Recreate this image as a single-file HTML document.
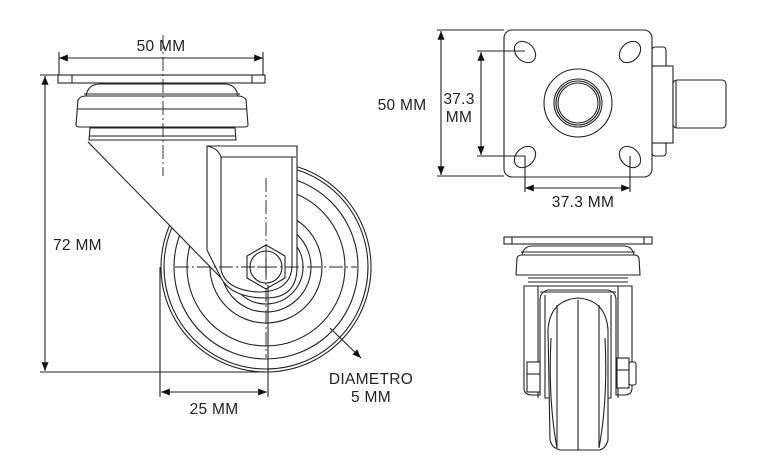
<!DOCTYPE html>
<html><head><meta charset="utf-8"><style>
html,body{margin:0;padding:0;background:#fff;}
svg{display:block}
text{font-family:"Liberation Sans",sans-serif;font-size:15.5px;fill:#222;letter-spacing:0.3px}
</style></head><body>
<svg width="766" height="476" viewBox="0 0 766 476" xmlns="http://www.w3.org/2000/svg">
<defs>
<marker id="a" viewBox="0 0 10 10" refX="10" refY="5" markerWidth="8" markerHeight="8" orient="auto-start-reverse"><path d="M0,1 L10,5 L0,9 Z" fill="#111"/></marker>
</defs>
<g fill="none" stroke="#222" stroke-width="1.1">
<line x1="59" y1="58" x2="263" y2="58" marker-start="url(#a)" marker-end="url(#a)"/>
<line x1="59" y1="52" x2="59" y2="75"/>
<line x1="263" y1="52" x2="263" y2="75"/>
<rect x="58" y="75" width="207" height="8" fill="#fff"/>
<line x1="72" y1="75" x2="72" y2="83"/><line x1="252" y1="75" x2="252" y2="83"/>
<path d="M86,96 Q88,84 100,84 L224,84 Q236,84 238,96" fill="#fff"/>
<line x1="84" y1="94" x2="240" y2="94"/>
<path d="M78,100 Q80,96 86,96 L238,96 Q244,96 246,100 L248,125 Q248,127 244,127 L80,127 Q76,127 76,125 Z" fill="#fff"/>
<line x1="77" y1="109" x2="247" y2="109"/>
<path d="M90,128 L235,128 L236,140 L89,140 Z" fill="#fff"/>
<line x1="89" y1="136" x2="236" y2="136"/>
<circle cx="266" cy="267" r="105" fill="#fff"/>
<circle cx="266" cy="267" r="102"/>
<circle cx="266" cy="267" r="92"/>
<circle cx="266" cy="267" r="79"/>
<circle cx="266" cy="267" r="56"/>
<circle cx="266" cy="267" r="45"/>
<circle cx="266" cy="267" r="37"/>
<path d="M88,141 L226,283 L226,148 Z" fill="#fff" stroke="none"/>
<line x1="88" y1="142" x2="225" y2="282"/>
<path d="M207,146 L297,146 L297,267 Q297,298 266,298 Q232,298 221,278 L207,250 Z" fill="#fff"/>
<path d="M221,157 L221,270 Q226,290 258,292 Q290,292 292,267 L292,157"/>
<line x1="221" y1="157" x2="296" y2="157"/>
<path d="M207,146 Q218,148 221,157"/>
<line x1="297" y1="146" x2="297" y2="152"/>
<polygon points="266,245 285,256 285,278 266,289 247,278 247,256" fill="#fff"/>
<circle cx="266" cy="267" r="16"/>
<g stroke-dasharray="14,3,2,3" stroke-width="0.9">
<line x1="163" y1="35" x2="163" y2="176"/>
<line x1="266" y1="178" x2="266" y2="358"/>
<line x1="175" y1="267" x2="357" y2="267"/>
</g>
<line x1="257" y1="267" x2="275" y2="267"/><line x1="266" y1="258" x2="266" y2="276"/>
<line x1="45" y1="76" x2="45" y2="371" marker-start="url(#a)" marker-end="url(#a)"/>
<line x1="40" y1="75" x2="58" y2="75"/>
<line x1="40" y1="372" x2="266" y2="372"/>
<line x1="160" y1="267" x2="160" y2="397"/>
<line x1="268" y1="285" x2="268" y2="397"/>
<line x1="161" y1="392" x2="267" y2="392" marker-start="url(#a)" marker-end="url(#a)"/>
<line x1="330" y1="328" x2="361" y2="358" marker-end="url(#a)"/>

<line x1="441" y1="31" x2="441" y2="175" marker-start="url(#a)" marker-end="url(#a)"/>
<line x1="437" y1="30" x2="504" y2="30"/><line x1="437" y1="176" x2="504" y2="176"/>
<line x1="481" y1="52" x2="481" y2="155" marker-start="url(#a)" marker-end="url(#a)"/>
<line x1="525" y1="188" x2="630" y2="188" marker-start="url(#a)" marker-end="url(#a)"/>
<rect x="652" y="47" width="14" height="21" rx="3" fill="#fff"/>
<rect x="652" y="141" width="14" height="15" rx="3" fill="#fff"/>
<rect x="652" y="66" width="21" height="77" fill="#fff"/>
<rect x="673" y="80" width="53" height="48" rx="4" fill="#fff"/>
<line x1="676" y1="80" x2="676" y2="128"/>
<rect x="504" y="30" width="148" height="147" rx="8" fill="#fff"/>
<ellipse cx="525" cy="52" rx="12" ry="9" transform="rotate(45 525 52)"/>
<ellipse cx="630" cy="52" rx="12" ry="9" transform="rotate(-45 630 52)"/>
<ellipse cx="525" cy="157" rx="12" ry="9" transform="rotate(-45 525 157)"/>
<ellipse cx="630" cy="157" rx="12" ry="9" transform="rotate(45 630 157)"/>
<line x1="477" y1="51" x2="525" y2="51"/><line x1="477" y1="156" x2="525" y2="156"/>
<line x1="525" y1="156" x2="525" y2="192"/><line x1="630" y1="156" x2="630" y2="192"/>
<circle cx="578" cy="103" r="34"/>
<circle cx="578" cy="103" r="24"/>
<circle cx="578" cy="103" r="22"/>
<circle cx="578" cy="103" r="20"/>

<rect x="504" y="237" width="148" height="7" fill="#fff"/>
<line x1="512" y1="237" x2="512" y2="244"/><line x1="644" y1="237" x2="644" y2="244"/>
<path d="M522,255 Q524,246 532,246 L624,246 Q632,246 634,255" fill="#fff"/>
<line x1="521" y1="252" x2="635" y2="252"/>
<path d="M517,258 Q518,255 522,255 L634,255 Q638,255 639,258 L640,275 L516,275 Z" fill="#fff"/>
<line x1="528" y1="278" x2="628" y2="278"/><line x1="528" y1="282" x2="628" y2="282"/>
<path d="M524,286 L524,388 Q524,395 532,395 L540,395 L540,300 Q540,292 548,290 L608,290 Q616,292 616,300 L616,395 L624,395 Q632,395 632,388 L632,286 Z" fill="#fff"/>
<path d="M538,286 L538,398 M618,286 L618,398 M540,292 L616,292"/>
<path d="M545,295 L545,398 L552,398 M611,295 L611,398 L604,398"/>
<path d="M548,330 Q550,300 578,298 Q606,300 608,330 L608,440 Q606,448 600,450 L560,450 Q552,448 550,440 Z" fill="#fff"/>
<path d="M557,305 L557,448 M599,305 L599,448 M578,300 L578,450"/>
<path d="M551,338 Q548,400 557,448 M605,338 Q608,400 599,448"/>
<rect x="527" y="362" width="13" height="30" fill="#fff"/>
<line x1="527" y1="374" x2="540" y2="374"/>
<rect x="617" y="358" width="12" height="30" fill="#fff"/>
<line x1="617" y1="370" x2="629" y2="370"/>
<rect x="629" y="362" width="7" height="23" rx="2" fill="#fff"/>
</g>
<text x="161" y="51" text-anchor="middle">50 MM</text>
<text x="53" y="250">72 MM</text>
<text x="214" y="414" text-anchor="middle">25 MM</text>
<text x="371" y="384" text-anchor="middle">DIAMETRO</text>
<text x="371" y="402" text-anchor="middle">5 MM</text>
<text x="402" y="110" text-anchor="middle">50 MM</text>
<text x="459" y="104" text-anchor="middle">37.3</text>
<text x="459" y="122" text-anchor="middle">MM</text>
<text x="583" y="207" text-anchor="middle">37.3 MM</text>
</svg>
</body></html>
